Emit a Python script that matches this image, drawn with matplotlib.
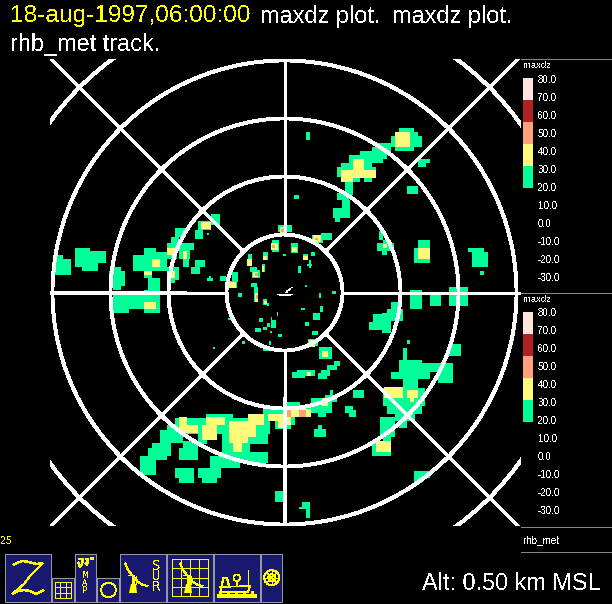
import numpy as np
import matplotlib
matplotlib.use('Agg')
import matplotlib.pyplot as plt
from matplotlib.colors import ListedColormap, BoundaryNorm
from matplotlib.patches import Circle, Rectangle

plt.rcParams['font.family'] = ['Liberation Sans', 'DejaVu Sans']
plt.rcParams['text.antialiased'] = False

W, H = 612, 604
CX, CY = 284.5, 292.5      # ship position in image pixels
PX_PER_KM = 58 / 30.0

# reflectivity echoes, one list per tile and level, as (x0, x1, y0, y1)
# in third-of-a-pixel units measured from the tile corner
tile_origin = {'nw': (50, 60), 'ne': (285, 60), 'sw': (50, 290), 'se': (285, 290), 'mid': (215, 225)}

nw_green = [(20,38,585,600),(15,62,597,645),(75,120,563,620),(120,168,573,608),(96,144,608,632),
            (190,213,620,632),(178,225,632,678),(190,213,678,690),(282,318,563,585),(250,350,585,632),
            (318,380,575,597),(282,306,632,655),(294,330,655,690),(282,330,690,705),(375,408,505,530),
            (362,386,530,565),(352,375,550,597),(386,432,550,570),(386,420,570,597),(398,416,597,620),
            (350,386,620,660),(362,375,655,668),(434,465,600,622),(422,450,620,642),(483,510,462,495),
            (445,483,483,510),(434,458,510,537),(470,478,518,525),(470,490,654,664),(478,484,648,654),
            (510,528,648,664),(190,237,700,705)]
nw_yellow = [(350,375,565,585),(400,410,573,597),(306,330,597,620),(282,306,632,645),(352,375,632,655),
             (453,483,487,507)]

ne_green = [(62,75,216,240),(342,387,204,216),(330,398,216,228),(318,410,228,260),(330,387,260,272),
            (275,330,250,262),(262,318,262,285),(225,306,272,297),(192,294,285,310),(168,262,308,330),
            (156,272,320,340),(156,168,330,352),(237,260,354,365),(204,225,342,365),(180,204,365,405),
            (156,192,400,420),(172,195,420,445),(145,195,445,475),(150,165,475,485),(400,435,297,308),
            (400,423,308,320),(366,398,378,402),(27,42,405,418),(282,295,514,540),(276,328,550,572),
            (292,306,572,585),(294,306,540,552),(400,435,540,565),(388,435,565,608),(549,597,565,575),
            (561,609,575,620),(585,597,633,645),(375,410,690,705),(435,467,700,705),(492,549,680,705)]
ne_yellow = [(330,375,216,260),(204,236,298,330),(168,272,330,354),(168,204,354,365),(294,306,553,563),
             (400,435,565,597)]

sw_green = [(190,237,10,68),(237,282,10,57),(282,330,10,68),(490,495,170,176),(375,660,385,432),
            (468,548,372,385),(595,660,372,385),(640,700,355,385),(350,400,405,460),(330,385,420,460),
            (305,362,460,498),(295,350,475,510),(270,318,498,555),(400,445,452,475),(387,445,475,510),
            (445,470,432,462),(515,600,432,490),(515,655,487,520),(480,570,498,535),(445,512,535,565),
            (456,500,565,578),(375,432,533,565),(387,432,565,578),(600,655,432,462),(675,700,390,418),
            (675,700,603,636)]
sw_yellow = [(387,410,380,405),(387,445,405,430),(468,525,380,405),(456,500,405,450),(538,595,392,460),
             (550,575,455,485),(595,642,372,405),(595,618,405,440),(655,700,372,392),(685,700,392,415),
             (282,318,36,57)]

se_green = [(375,410,10,56),(435,467,10,47),(492,549,10,47),(318,342,36,56),(305,353,56,70),(290,353,70,92),
            (290,318,92,128),(265,290,72,120),(252,290,96,120),(366,375,150,162),(492,528,162,198),
            (354,366,175,210),(342,410,210,232),(342,504,220,245),(318,410,245,268),(410,435,245,268),
            (460,504,232,278),(354,398,268,295),(295,420,295,347),(305,410,347,372),(330,390,372,392),
            (342,366,392,415),(285,330,382,440),(295,318,440,455),(262,318,455,497),(388,435,543,565),
            (388,410,565,580),(42,75,650,658),(50,75,636,650),(62,75,658,684),(0,6,603,636),(205,237,300,325),
            (180,205,348,370),(193,213,360,380),(100,112,405,418),(88,124,418,440),(35,90,240,258),
            (21,60,245,265),(148,165,213,228),(125,155,225,240),(108,135,240,258),(100,125,250,268),
            (135,145,300,320),(120,155,315,335),(78,142,325,370),(100,122,370,380),(0,45,335,350),
            (0,78,350,380),(0,30,380,405),(5,18,405,416),(102,140,172,206),(72,100,148,168)]
se_yellow = [(297,354,292,323),(366,399,300,323),(375,387,323,335),(273,318,454,486),(66,78,246,258),
             (5,78,358,382),(0,18,382,405),(110,130,325,347),(112,130,182,200),(72,90,160,170)]
se_salmon = [(5,18,360,382),(42,63,360,382)]

mid_green = [(15,33,153,167),(50,68,140,170),(40,65,168,190),(68,80,205,215),(100,112,88,124),(110,125,125,135),
             (105,118,125,140),(112,135,135,160),(140,150,118,142),(145,160,82,105),(170,192,45,80),
             (205,212,86,92),(228,250,55,85),(190,232,0,22),(265,280,88,105),(288,300,82,92),(277,292,118,122),
             (283,288,105,128),(250,257,124,145),(318,350,25,45),(290,325,30,55),(108,126,175,187),
             (118,128,187,232),(145,155,222,240),(155,162,235,242),(270,277,180,185),(312,318,205,220),
             (352,362,198,208),(258,270,250,255),(315,323,243,260),(295,315,265,285),(185,188,262,272),
             (168,172,275,285),(132,145,280,290),(155,165,295,305),(145,155,305,315),(168,182,285,310),
             (120,137,310,320),(165,170,318,325),(190,200,328,335),(162,167,348,360),(82,90,348,358),
             (270,282,292,302),(290,310,318,330),(280,310,342,362),(320,350,368,390),(143,162,362,378),
             (40,48,280,285)]
mid_yellow = [(40,62,170,188),(97,112,102,122),(115,130,140,156),(140,147,122,140),(145,157,92,104),
              (168,188,55,75),(230,245,65,80),(195,215,5,25),(265,278,92,105),(295,318,30,52),
              (120,128,205,232),(147,155,228,236),(282,300,345,362),(322,340,378,390)]
mid_salmon = [(120,128,145,152),(172,180,60,70),(198,206,12,22),(300,310,38,45),(122,128,210,222)]

echo_levels = [
    (25.0, [('nw', nw_green), ('ne', ne_green), ('sw', sw_green), ('se', se_green), ('mid', mid_green)]),
    (35.0, [('nw', nw_yellow), ('ne', ne_yellow), ('sw', sw_yellow), ('se', se_yellow), ('mid', mid_yellow)]),
    (45.0, [('se', se_salmon), ('mid', mid_salmon)]),
]

dbz_edges = [20, 30, 40, 50, 60, 70]
dbz_colors = ['#00ff99', '#fff97a', '#ffa07a', '#b22222', '#ffe4e1']
dbz_labels = ['80.0', '70.0', '60.0', '50.0', '40.0', '30.0', '20.0', '10.0', '0.0', '-10.0', '-20.0', '-30.0']

ring_km = [30, 60, 90, 120, 150]
spoke_deg = [0, 45, 90, 135, 180, 225, 270, 315]

YELLOW = '#ffff00'
NAVY = '#191970'
GREY = '#999999'
THIN = 0.5


def pixel_axes(x0, y0, x1, y1):
    a = fig.add_axes([x0 / W, 1 - y1 / H, (x1 - x0) / W, (y1 - y0) / H])
    a.set_axis_off()
    return a


fig = plt.figure(figsize=(W / 100, H / 100), dpi=100, facecolor='black')

# map, in km from the ship
dbz = np.full((H, W), np.nan)
for level, tiles in echo_levels:
    for name, cells in tiles:
        ox, oy = tile_origin[name]
        for x0, x1, y0, y1 in cells:
            dbz[oy + round(y0 / 3):oy + round(y1 / 3), ox + round(x0 / 3):ox + round(x1 / 3)] = level

cmap = ListedColormap(dbz_colors)
norm = BoundaryNorm(dbz_edges, 5)

ax = pixel_axes(50, 59, 521, 526)
ax.imshow(dbz, cmap=cmap, norm=norm, interpolation='nearest', aspect='auto', origin='upper',
          extent=(-CX / PX_PER_KM, (W - CX) / PX_PER_KM, (CY - H) / PX_PER_KM, CY / PX_PER_KM), zorder=1)
ax.set_xlim((50 - CX) / PX_PER_KM, (521 - CX) / PX_PER_KM)
ax.set_ylim((CY - 526) / PX_PER_KM, (CY - 59) / PX_PER_KM)

for r in ring_km:
    ax.add_patch(Circle((0, 0), r, fill=False, ec='white', lw=2.1, antialiased=False, zorder=3))
for deg in spoke_deg:
    c, s = np.cos(np.radians(deg)), np.sin(np.radians(deg))
    ax.plot([ring_km[0] * c, 200 * c], [ring_km[0] * s, 200 * s], color='white', lw=1.9,
            antialiased=False, zorder=3)

# ship symbol and its short track
ax.plot([-3.9, 3.7], [-0.8, -0.8], color='white', lw=THIN, antialiased=False, zorder=4)
ax.plot([-2.6, 2.8], [-1.5, -1.5], color='white', lw=THIN, antialiased=False, zorder=4)
ax.plot([-2.2, -2.2, -1.0, -1.0, 0.2, 0.2, 1.4, 1.4], [-1.5, -0.8, -0.8, -1.5, -1.5, -0.8, -0.8, -1.5],
        color='white', lw=THIN, antialiased=False, zorder=4)
ax.plot([0.9, 1.6], [0.0, 0.9], color='white', lw=THIN, antialiased=False, zorder=4)
ax.plot([2.2, 3.0], [1.4, 1.9], color='white', lw=THIN, antialiased=False, zorder=4)
ax.plot([3.4, 4.0], [2.6, 2.6], color='white', lw=THIN, antialiased=False, zorder=4)

# everything around the map is placed in image pixels
ov = pixel_axes(0, 0, W, H)
ov.set_xlim(0, W)
ov.set_ylim(H, 0)
ov.patch.set_alpha(0)

TITLE_SIZE = 16.9
ov.text(10, 16, '18-aug-1997,06:00:00', color=YELLOW, fontsize=17.6, va='center', ha='left')
ov.text(260, 16, 'maxdz plot.', color='white', fontsize=TITLE_SIZE, va='center', ha='left')
ov.text(392, 16, 'maxdz plot.', color='white', fontsize=TITLE_SIZE, va='center', ha='left')
ov.text(10, 44, 'rhb_met track.', color='white', fontsize=TITLE_SIZE, va='center', ha='left')
ov.text(0, 541, '25', color=YELLOW, fontsize=7.5, va='center', ha='left')
ov.text(601, 584, 'Alt: 0.50 km MSL', color='white', fontsize=TITLE_SIZE, va='center', ha='right')

# colour key panels
for y in [59, 293, 527, 552]:
    ov.plot([521, W], [y, y], color='#888888', lw=0.7, antialiased=False)
for name_y, bar_top, first_label_y in [(65, 78, 80), (300, 312, 313.5)]:
    ov.text(523, name_y, 'maxdz', color='white', fontsize=6.8, va='center', ha='left')
    bar = pixel_axes(523, bar_top, 533, bar_top + 110)
    bar.pcolormesh([0, 1], dbz_edges, np.arange(25, 75, 10).reshape(5, 1), cmap=cmap, norm=norm)
    bar.set_ylim(20, 70)
    for i, lab in enumerate(dbz_labels):
        ov.text(538, first_label_y + 18 * i, lab, color='white', fontsize=7.1, va='center', ha='left')
ov.text(523, 540, 'rhb_met', color='white', fontsize=7.1, va='center', ha='left')

# tool buttons
buttons = [(5, 554, 51, 602), (52, 578, 74, 602), (75, 554, 96, 602), (97, 578, 119, 602),
           (120, 554, 166, 602), (167, 554, 213, 602), (214, 554, 260, 602), (261, 554, 282, 602)]
for x0, y0, x1, y1 in buttons:
    ov.add_patch(Rectangle((x0, y0), x1 - x0, y1 - y0, fc=NAVY, ec=GREY, lw=0.7, antialiased=False))


def line(xs, ys, lw=THIN):
    ov.plot(xs, ys, color=YELLOW, lw=lw, antialiased=False, solid_capstyle='butt')


def grid(x0, y0, x1, y1, n):
    for i in range(n + 1):
        gx = x0 + (x1 - x0) * i / n
        gy = y0 + (y1 - y0) * i / n
        line([gx, gx], [y0, y1])
        line([x0, x1], [gy, gy])


def dish(x):
    line([x + 5, x + 8, x + 12, x + 18, x + 23, x + 28], [563, 570, 575, 582, 585, 586], 0.8)
    line([x + 8, x + 14], [575, 575])
    line([x + 13, x + 13], [575, 584], 0.8)
    line([x + 16, x + 16], [576, 584])
    ov.fill([x + 11, x + 16, x + 17, x + 9], [584, 584, 593, 593], color=YELLOW, lw=0)


# Z
line([13, 19, 23, 29, 36, 43], [565, 562, 561, 562, 564, 563], 1.0)
line([43, 37, 30, 24, 17, 12], [563, 569, 576, 584, 590, 594], 0.8)
line([12, 18, 24, 30, 36, 44], [594, 591, 590, 591, 594, 590], 1.0)

grid(55, 582, 71, 598, 3)

# map button
line([78, 83, 82, 80, 78], [559, 559, 564, 567, 562], 1.0)
line([85, 88, 87, 85], [559, 559, 565, 563], 1.0)
line([90, 93], [558, 558], 1.0)
ov.text(85, 583, 'M\nA\nP', color=YELLOW, fontsize=6.5, ha='center', va='center', ma='center',
        family='DejaVu Sans Mono', linespacing=0.76)
ov.add_patch(Circle((108.5, 590), 7.3, fill=False, ec=YELLOW, lw=THIN, antialiased=False))

dish(120)
ov.text(156, 576.5, 'S\nU\nR', color=YELLOW, fontsize=10, ha='center', va='center', ma='center',
        family='DejaVu Sans Mono', linespacing=0.72)
grid(172, 559, 208, 596, 4)
dish(175)

# ship button
ov.add_patch(Rectangle((217, 594), 40, 4, fc=YELLOW, ec='none'))
for tooth in [220, 228, 236, 244, 252]:
    line([tooth, tooth], [591, 594], 0.9)
line([220, 250, 248, 222, 220], [587, 586, 592, 592, 587])
line([222, 223, 227, 229], [586, 578, 578, 586], 0.8)
line([236.5, 236.5], [581, 586], 1.2)
ov.add_patch(Circle((236.7, 577.7), 3.3, fill=False, ec=YELLOW, lw=THIN, antialiased=False))
line([248, 248], [570, 586])

# wheel button
ov.add_patch(Circle((271.7, 577.7), 7.5, fill=False, ec=YELLOW, lw=0.7, ls=(0, (2, 1)), antialiased=False))
ov.add_patch(Circle((271.7, 577.7), 3.3, fill=False, ec=YELLOW, lw=0.7, ls=(0, (2, 1)), antialiased=False))
line([264, 279], [577.7, 577.7])
line([271.7, 271.7], [570, 585])
line([266.5, 277], [572.5, 583])
line([266.5, 277], [583, 572.5])

fig.savefig('out.png', dpi=100, facecolor='black')
